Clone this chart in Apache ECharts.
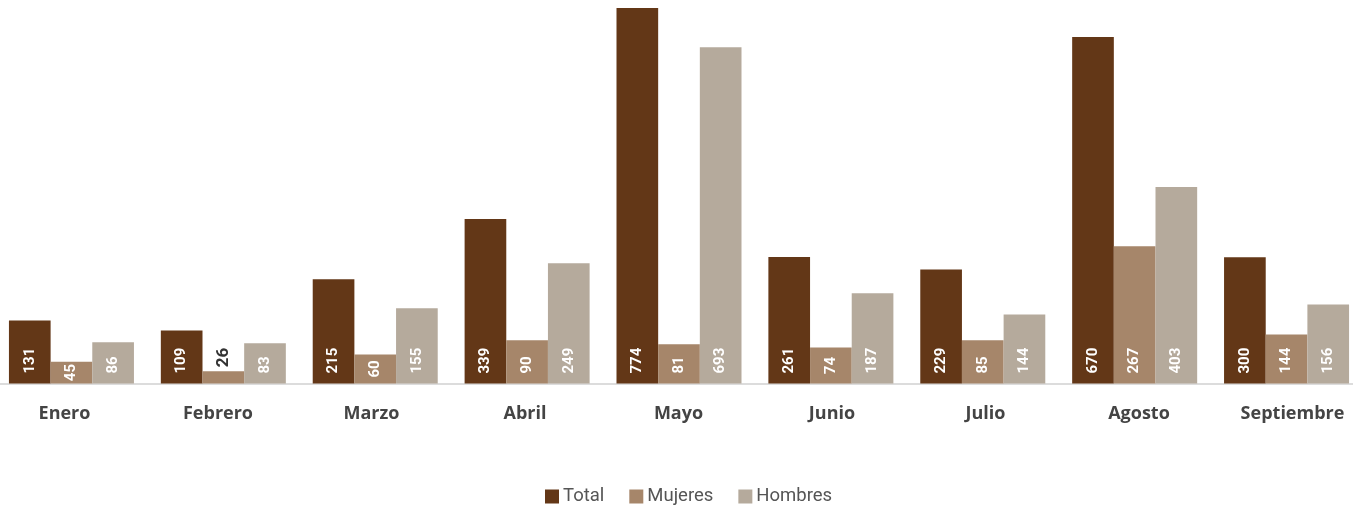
<!DOCTYPE html>
<html><head><meta charset="utf-8">
<script src="https://cdn.jsdelivr.net/npm/echarts@6/dist/echarts.min.js"></script>
<style>html,body{margin:0;padding:0;background:#fff;overflow:hidden}#c{width:1390px;height:508px;margin-left:-15px}</style>
</head><body><div id="c"></div>
<script>
const categories = ['Enero','Febrero','Marzo','Abril','Mayo','Junio','Julio','Agosto','Septiembre'];
// bar heights
const totalValues   = [130, 109, 215, 339, 774, 261, 235, 714, 260];
const mujeresValues = [45, 25, 60, 89, 81, 74, 89, 283, 101];
const hombresValues = [85, 83, 155, 248, 693, 186, 142, 405, 163];
// printed labels
const totalLabels   = [131, 109, 215, 339, 774, 261, 229, 670, 300];
const mujeresLabels = [45, 26, 60, 90, 81, 74, 85, 267, 144];
const hombresLabels = [86, 83, 155, 249, 693, 187, 144, 403, 156];
const seriesNames = ['Total','Mujeres','Hombres'];
const colors = ['#633717','#a6866a','#b5aa9c'];

const font = 'Roboto, "Noto Sans", sans-serif';
const catFont = '"Open Sans", Roboto, sans-serif';
function mk(name, vals, labels, color){
  return {
    name, type:'bar', barGap:'0%', barCategoryGap:'17.7%',
    xAxisIndex:0, yAxisIndex:0,
    itemStyle:{color},
    data: vals.map((v,i)=>{
      const tiny = v < 30;
      const short = v < 76;
      let label;
      if (tiny) {
        label = {position:'top', distance:4, align:'left', verticalAlign:'middle', color:'#333', fontSize:17};
      } else if (short) {
        label = {position:'inside', align:'center', verticalAlign:'middle', color:'#fff', fontSize:15};
      } else {
        label = {position:'insideBottom', distance:10, align:'left', verticalAlign:'middle', color:'#fff', fontSize:15};
      }
      return {
        value: v,
        label: Object.assign({show:true, rotate:90, fontWeight:'bold', fontFamily:font, formatter:String(labels[i])}, label)
      };
    })
  };
}
const chart = echarts.init(document.getElementById('c'));
chart.setOption({
  animation:false,
  grid:[
    {left:10.5, width:1367, top:8, bottom:124.5, containLabel:false},
    {left:2.75, width:1381.5, top:8, bottom:124.5, containLabel:false}
  ],
  legend:{top:487, left:560, padding:0, itemWidth:14, itemHeight:14, itemGap:25, icon:'rect',
    textStyle:{fontSize:18.5, color:'#555', fontFamily:font, padding:[0,0,0,-1]}, data:seriesNames},
  xAxis:[
    {type:'category', gridIndex:0, data:categories, axisLine:{show:false}, axisTick:{show:false}, axisLabel:{show:false}},
    {type:'category', gridIndex:1, data:categories, axisLine:{show:false}, axisTick:{show:false},
      axisLabel:{fontSize:18, fontWeight:'bold', color:'#444', fontFamily:catFont, margin:21}}
  ],
  yAxis:[
    {type:'value', gridIndex:0, min:0, max:'dataMax', show:false, splitLine:{show:false}},
    {type:'value', gridIndex:1, min:0, max:1, show:false, splitLine:{show:false}}
  ],
  graphic:[{type:'line', shape:{x1:15,y1:384,x2:1368,y2:384}, style:{stroke:'#dcdcdc', lineWidth:2}, z:-1}],
  series:[
    mk(seriesNames[0], totalValues, totalLabels, colors[0]),
    mk(seriesNames[1], mujeresValues, mujeresLabels, colors[1]),
    mk(seriesNames[2], hombresValues, hombresLabels, colors[2])
  ]
});
</script></body></html>
